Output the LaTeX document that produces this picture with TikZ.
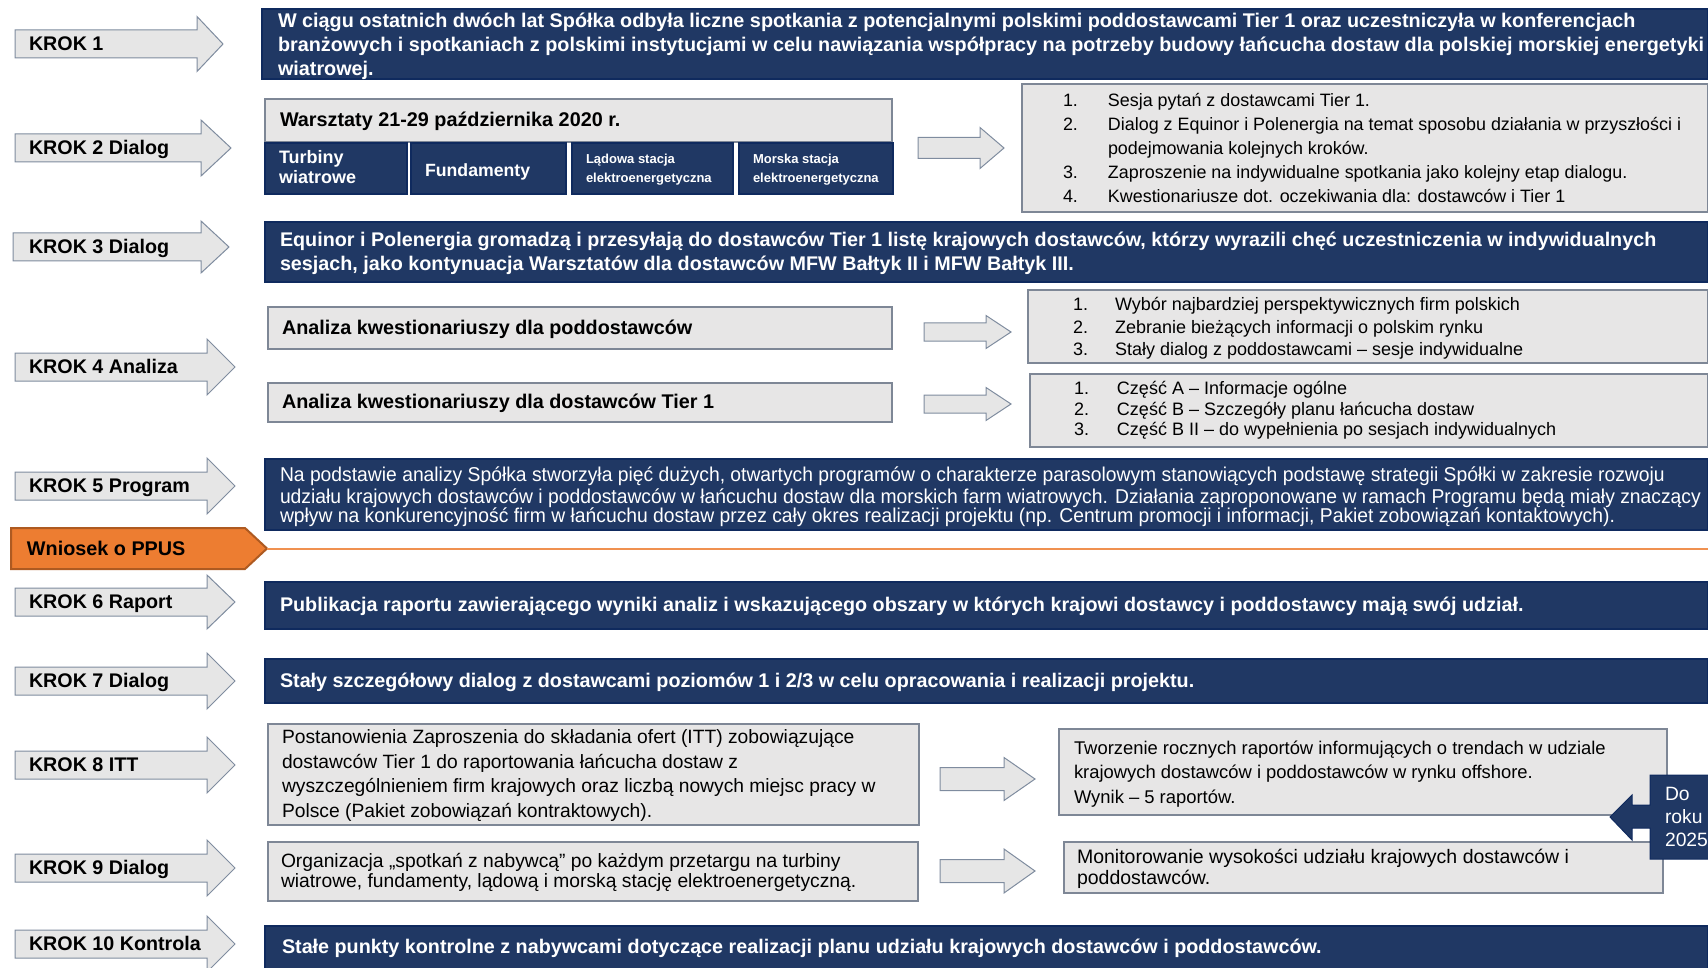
\documentclass[tikz,border=0pt]{standalone}
\usepackage{fontspec}
\setmainfont{Liberation Sans}
\newfontfamily\nfa[FakeStretch=0.965]{Liberation Sans}
\usetikzlibrary{fit}
\definecolor{navy}{HTML}{203864}
\definecolor{navyd}{HTML}{0F2A5E}
\definecolor{boxg}{HTML}{E7E6E6}
\definecolor{boxb}{HTML}{7E8796}
\definecolor{arrg}{HTML}{E6E6E6}
\definecolor{arrb}{HTML}{7F8C9F}
\definecolor{orng}{HTML}{ED7D31}
\definecolor{orngd}{HTML}{AE5A21}
\newcommand\fs[2]{\fontsize{#1pt}{#2pt}\selectfont}
\newcommand\barr[7]{\path[#1] (#2,#5-#6) -- (#3,#5-#6) -- (#3,#5-#7) -- (#4,#5) -- (#3,#5+#7) -- (#3,#5+#6) -- (#2,#5+#6) -- cycle;}
\newcommand\itm[2]{\makebox[#1pt][l]{#2}}
\begin{document}
\begin{tikzpicture}[x=1pt,y=-1pt,
  navybox/.style={fill=navy,draw=navyd,line width=1.2pt,inner sep=0pt},
  navyboxd/.style={fill=navy,draw=navyd,line width=2.5pt,inner sep=0pt},
  graybox/.style={fill=boxg,draw=boxb,line width=1.2pt,inner sep=0pt},
  blockarr/.style={fill=arrg,draw=arrb,line width=1pt},
  orangearr/.style={fill=orng,draw=orngd,line width=2pt},
  callout/.style={fill=navy,draw=navyd,line width=1pt},
  txt/.style={inner sep=0pt,outer sep=0pt,anchor=north west,align=left},
  onel/.style={inner sep=0pt,outer sep=0pt,anchor=base west},
  lbl/.style={onel,font=\fs{19.7}{23}\bfseries},
  wtitle/.style={onel,text=white,font=\fs{19.75}{24}\bfseries},
  btitle/.style={onel,font=\fs{19.8}{23}\bfseries},
]
\useasboundingbox (0,0) rectangle (1708,968);
\clip (0,0) rectangle (1708,968);

% ---------- left step arrows ----------
\barr{blockarr}{15}{197}{223}{44}{14}{27.5}
\barr{blockarr}{15}{201}{231}{148}{14}{28}
\barr{blockarr}{13}{201}{229}{247}{14}{26}
\barr{blockarr}{15}{207}{235}{367}{14}{28}
\barr{blockarr}{15}{207}{235}{486}{14}{28}
\barr{blockarr}{15}{207}{235}{602}{14}{27}
\barr{blockarr}{15}{207}{235}{681}{14}{28}
\barr{blockarr}{15}{207}{235}{765}{14}{28}
\barr{blockarr}{15}{207}{235}{868}{14}{28}
\barr{blockarr}{15}{207}{235}{944}{14}{28}
\node[lbl] (l1) at (29,50.5) {KROK 1};
\node[lbl] (l2) at (29,154.5) {KROK 2 Dialog};
\node[lbl] (l3) at (29,253.5) {KROK 3 Dialog};
\node[lbl] (l4) at (29,373.5) {KROK 4 Analiza};
\node[lbl] (l5) at (29,492.5) {KROK 5 Program};
\node[lbl] (l6) at (29,608.5) {KROK 6 Raport};
\node[lbl] (l7) at (29,687.5) {KROK 7 Dialog};
\node[lbl] (l8) at (29,771.5) {KROK 8 ITT};
\node[lbl] (l9) at (29,874.5) {KROK 9 Dialog};
\node[lbl] (l10) at (29,950.5) {KROK 10 Kontrola};

% ---------- Wniosek o PPUS ----------
\path[orangearr] (11,528) -- (245,528) -- (267,548.5) -- (245,569) -- (11,569) -- cycle;
\coordinate (wtip) at (267,549);
\coordinate (wend) at (1708,549);
\draw[orng!85,line width=1.5pt] (wtip) -- (wend);
\node[btitle] (wn) at (27,555) {Wniosek o PPUS};

% ---------- boxes ----------
\node[navyboxd,fit={(262,9)(1708,79)}] (b1) {};
\node[graybox,fit={(265,99)(892,142)}] (b2t) {};
\node[navybox,fit={(265,143)(407,194)}] (b2a) {};
\node[navybox,fit={(411,143)(566,194)}] (b2b) {};
\node[navybox,fit={(572,143)(733,194)}] (b2c) {};
\node[navybox,fit={(739,143)(893,194)}] (b2d) {};
\node[graybox,fit={(1022,84)(1708,212)}] (b2r) {};
\node[navybox,fit={(265,222)(1708,282)}] (b3) {};
\node[graybox,fit={(268,307)(892,349)}] (b4a) {};
\node[graybox,fit={(268,383)(892,422)}] (b4b) {};
\node[graybox,fit={(1028,290)(1708,363)}] (b4ra) {};
\node[graybox,fit={(1030,374)(1708,447)}] (b4rb) {};
\node[navyboxd,fit={(265,459)(1708,530)}] (b5) {};
\node[navybox,fit={(265,582)(1708,629)}] (b6) {};
\node[navybox,fit={(265,659)(1708,703)}] (b7) {};
\node[graybox,fit={(268,724)(919,825)}] (b8) {};
\node[graybox,fit={(1059,729)(1667,815)}] (b8r) {};
\node[graybox,fit={(268,842)(918,901)}] (b9) {};
\node[graybox,fit={(1064,842)(1663,893)}] (b9r) {};
\node[navybox,fit={(265,926)(1708,980)}] (b10) {};

% ---------- middle arrows ----------
\barr{blockarr}{918}{980}{1004}{148}{10.5}{20.5}
\barr{blockarr}{924}{986}{1011}{332}{9}{16.5}
\barr{blockarr}{924}{986}{1011}{404}{9}{16.5}
\barr{blockarr}{940}{1004}{1035}{779}{11.5}{21.5}
\barr{blockarr}{940}{1004}{1035}{871}{11.5}{22}

% ---------- callout ----------
\path[callout] (1710,775) -- (1650,775) -- (1650,805) -- (1632,805) -- (1632,795) -- (1610,817) -- (1632,840) -- (1632,828) -- (1650,828) -- (1650,859) -- (1710,859) -- cycle;
\node[txt,text=white,font=\fs{19.3}{23}] (t-do) at (1665,784.3) {\strut Do\\roku\\2025};

% ---------- texts ----------
\node[txt,text=white,font=\fs{19.8}{24.2}\bfseries] (t1) at (278,10.5) {\strut W ciągu ostatnich dwóch lat Spółka odbyła liczne spotkania z potencjalnymi polskimi poddostawcami Tier 1 oraz uczestniczyła w konferencjach\\branżowych i spotkaniach z polskimi instytucjami w celu nawiązania współpracy na potrzeby budowy łańcucha dostaw dla polskiej morskiej energetyki\\wiatrowej.};

\node[btitle] (t2t) at (280,126.5) {Warsztaty 21-29 października 2020 r.};
\node[txt,text=white,font=\fs{18}{20}\bfseries] (t2a) at (279,150) {\strut Turbiny\\wiatrowe};
\node[onel,text=white,font=\fs{17.7}{20}\bfseries] (t2b) at (425,177) {Fundamenty};
\node[txt,text=white,font=\fs{13}{19.5}\bfseries] (t2c) at (586,149.7) {\strut Lądowa stacja\\elektroenergetyczna};
\node[txt,text=white,font=\fs{13}{19.5}\bfseries] (t2d) at (753,149.7) {\strut Morska stacja\\elektroenergetyczna};
\node[txt,font=\fs{17.9}{24}] (t2r) at (1063,90.2) {\strut\itm{45}{1.}Sesja pytań z dostawcami Tier 1.\\
\itm{45}{2.}Dialog z Equinor i Polenergia na temat sposobu działania w przyszłości i\\
\itm{45}{}podejmowania kolejnych kroków.\\
\itm{45}{3.}Zaproszenie na indywidualne spotkania jako kolejny etap dialogu.\\
\itm{45}{4.}Kwestionariusze dot. oczekiwania dla: dostawców i Tier 1};

\node[txt,text=white,font=\fs{19.75}{24}\bfseries] (t3) at (280,229.8) {\strut Equinor i Polenergia gromadzą i przesyłają do dostawców Tier 1 listę krajowych dostawców, którzy wyrazili chęć uczestniczenia w indywidualnych\\sesjach, jako kontynuacja Warsztatów dla dostawców MFW Bałtyk II i MFW Bałtyk III.};

\node[btitle] (t4a) at (282,334.5) {Analiza kwestionariuszy dla poddostawców};
\node[btitle] (t4b) at (282,408.5) {Analiza kwestionariuszy dla dostawców Tier 1};
\node[txt,font=\fs{18}{22.5}] (t4ra) at (1073,295.2) {\strut\itm{42}{1.}Wybór najbardziej perspektywicznych firm polskich\\
\itm{42}{2.}Zebranie bieżących informacji o polskim rynku\\
\itm{42}{3.}Stały dialog z poddostawcami – sesje indywidualne};
\node[txt,font=\fs{18}{20.5}] (t4rb) at (1074,380.6) {\strut\itm{43}{1.}Część A – Informacje ogólne\\
\itm{43}{2.}Część B – Szczegóły planu łańcucha dostaw\\
\itm{43}{3.}Część B II – do wypełnienia po sesjach indywidualnych};

\node[txt,text=white,font=\nfa\fs{20}{19.6}] (t5) at (280,466.8) {\strut Na podstawie analizy Spółka stworzyła pięć dużych, otwartych programów o charakterze parasolowym stanowiących podstawę strategii Spółki w zakresie rozwoju\\udziału krajowych dostawców i poddostawców w łańcuchu dostaw dla morskich farm wiatrowych. Działania zaproponowane w ramach Programu będą miały znaczący\\wpływ na konkurencyjność firm w łańcuchu dostaw przez cały okres realizacji projektu (np. Centrum promocji i informacji, Pakiet zobowiązań kontaktowych).};

\node[wtitle] (t6) at (280,611.6) {Publikacja raportu zawierającego wyniki analiz i wskazującego obszary w których krajowi dostawcy i poddostawcy mają swój udział.};
\node[wtitle] (t7) at (280,687.6) {Stały szczegółowy dialog z dostawcami poziomów 1 i 2/3 w celu opracowania i realizacji projektu.};

\node[txt,font=\fs{19.25}{24.8}] (t8) at (282,726) {\strut Postanowienia Zaproszenia do składania ofert (ITT) zobowiązujące\\dostawców Tier 1 do raportowania łańcucha dostaw z\\wyszczególnieniem firm krajowych oraz liczbą nowych miejsc pracy w\\Polsce (Pakiet zobowiązań kontraktowych).};
\node[txt,font=\fs{18.4}{24.5}] (t8r) at (1074,737) {\strut Tworzenie rocznych raportów informujących o trendach w udziale\\krajowych dostawców i poddostawców w rynku offshore.\\Wynik – 5 raportów.};

\node[txt,font=\fs{19.25}{20.5}] (t9) at (281,853) {\strut Organizacja „spotkań z nabywcą” po każdym przetargu na turbiny\\wiatrowe, fundamenty, lądową i morską stację elektroenergetyczną.};
\node[txt,font=\fs{19.5}{21}] (t9r) at (1077,848.6) {\strut Monitorowanie wysokości udziału krajowych dostawców i\\poddostawców.};

\node[wtitle] (t10) at (282,953.6) {Stałe punkty kontrolne z nabywcami dotyczące realizacji planu udziału krajowych dostawców i poddostawców.};
\end{tikzpicture}
\end{document}
